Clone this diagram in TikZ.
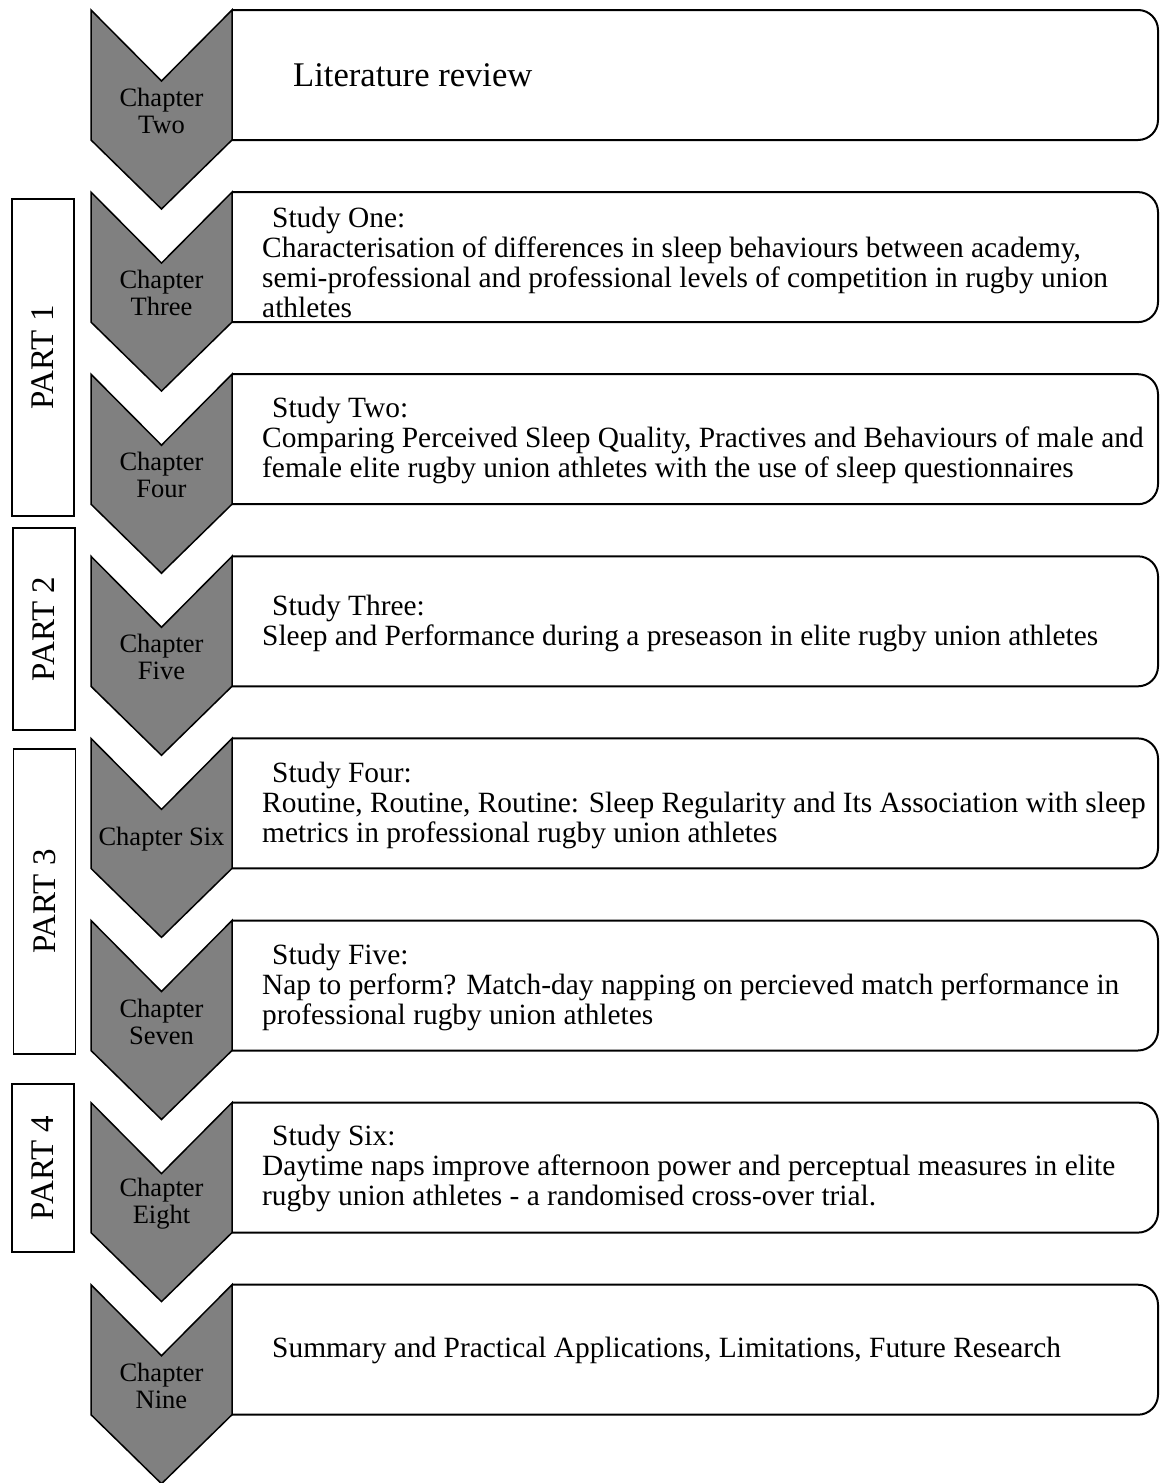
\documentclass[tikz,border=0pt]{standalone}
\usepackage{fontspec}
\setmainfont{Liberation Serif}

\tikzset{
  chevron/.style={draw=black, line width=1.5pt, fill=gray, line join=miter},
  studybox/.style={draw=black, line width=2pt, rounded corners=20pt},
  partbox/.style={draw=black, line width=1.8pt, rotate=90, minimum height=62pt, inner sep=0pt, font=\fontsize{33}{34}\selectfont},
  chaplabel/.style={align=center, inner sep=0pt, font=\fontsize{26.5}{27}\selectfont},
  studytext/.style={align=left, anchor=west, inner sep=0pt, font=\fontsize{29.4}{30}\selectfont}
}

\begin{document}
\begin{tikzpicture}[x=1pt, y=-1pt]
\useasboundingbox (0,0) rectangle (1160,1483);

% chevrons with their boxes
\foreach \i/\chap in {0/{Chapter\\Two}, 1/{Chapter\\Three}, 2/{Chapter\\Four}, 3/{Chapter\\Five},
                      4/{Chapter Six}, 5/{Chapter\\Seven}, 6/{Chapter\\Eight}, 7/{Chapter\\Nine}}
{
  \pgfmathsetmacro\top{10+182.1*\i}
  \draw[studybox] (232,\top) -- (1158,\top) -- (1158,\top+130) -- (232,\top+130);
  \draw[chevron] (91,\top) -- (161.5,\top+71) -- (232,\top) -- (232,\top+130)
     -- (161.5,\top+199) -- (91,\top+130) -- cycle;
  \node[chaplabel] (chap\i) at (161.5,\top+101) {\chap};
}

% study texts
\node[studytext, font=\fontsize{34.6}{36}\selectfont] (lit) at (293,75) {Literature review};
\node[studytext] (study1) at (262,262)
  {\hspace*{10pt}Study One:\\Characterisation of differences in sleep behaviours between academy,\\semi-professional and professional levels of competition in rugby union\\athletes};
\node[studytext] (study2) at (262,440)
  {\hspace*{10pt}Study Two:\\Comparing Perceived Sleep Quality, Practives and Behaviours of male and\\female elite rugby union athletes with the use of sleep questionnaires};
\node[studytext] (study3) at (262,623)
  {\hspace*{10pt}Study Three:\\Sleep and Performance during a preseason in elite rugby union athletes};
\node[studytext] (study4) at (262,805)
  {\hspace*{10pt}Study Four:\\Routine, Routine, Routine: Sleep Regularity and Its Association with sleep\\metrics in professional rugby union athletes};
\node[studytext] (study5) at (262,987)
  {\hspace*{10pt}Study Five:\\Nap to perform? Match-day napping on percieved match performance in\\professional rugby union athletes};
\node[studytext] (study6) at (262,1168)
  {\hspace*{10pt}Study Six:\\Daytime naps improve afternoon power and perceptual measures in elite\\rugby union athletes - a randomised cross-over trial.};
\node[studytext] (summary) at (272,1350)
  {Summary and Practical Applications, Limitations, Future Research};

% parts
\node[partbox, minimum width=317pt] (part1) at (43,357.5) {PART 1};
\node[partbox, minimum width=202pt] (part2) at (44,629) {PART 2};
\node[partbox, minimum width=305pt] (part3) at (44.5,901.5) {PART 3};
\node[partbox, minimum width=168pt] (part4) at (43,1168) {PART 4};
\end{tikzpicture}
\end{document}
